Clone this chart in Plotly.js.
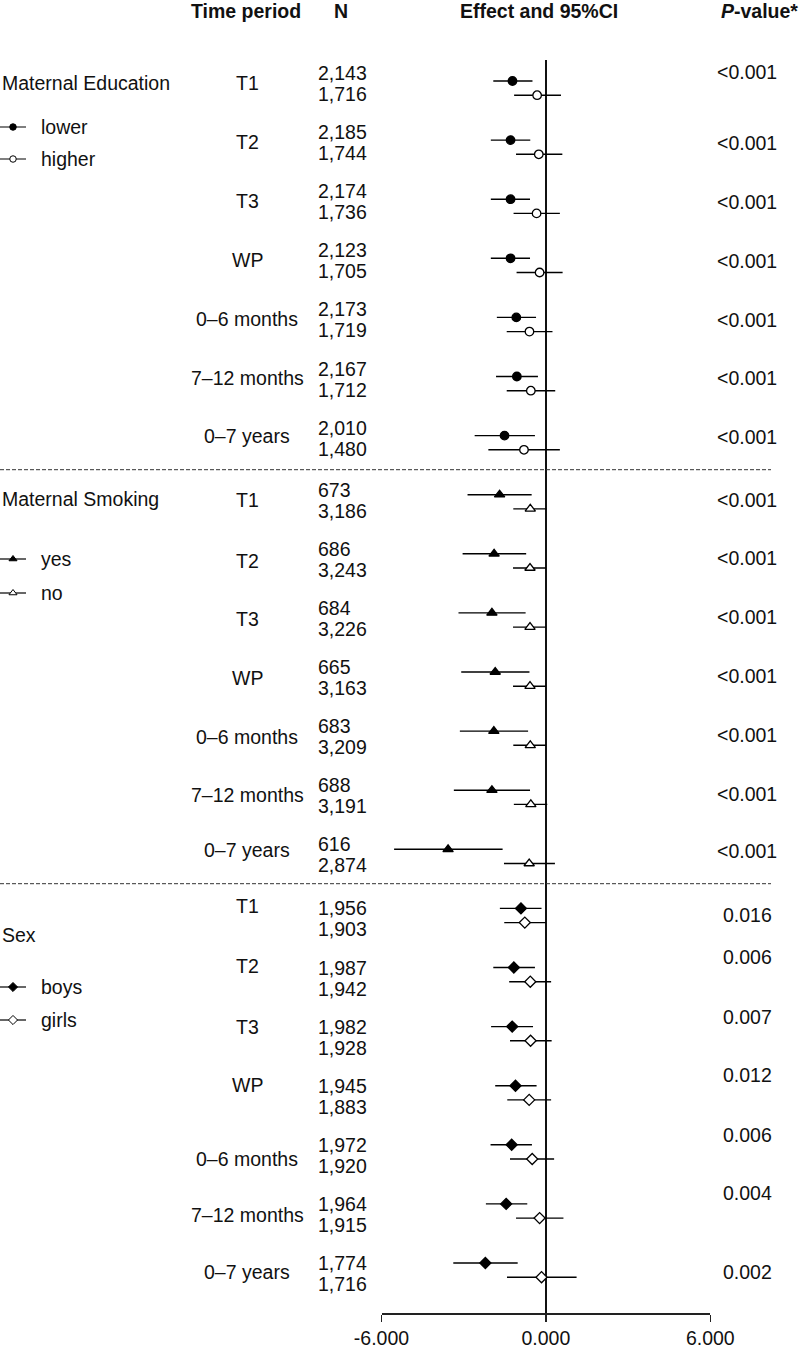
<!DOCTYPE html>
<html>
<head>
<meta charset="utf-8">
<script src="https://cdn.plot.ly/plotly-3.0.1.min.js"></script>
<style>
  html, body { margin: 0; padding: 0; background: #fff; }
  #chart { width: 800px; height: 1349px; }
</style>
</head>
<body>
<div id="chart"></div>
<script>
// ---- data ----
const periods = ['T1', 'T2', 'T3', 'WP', '0–6 months', '7–12 months', '0–7 years'];

// Maternal education
const eduLowerN   = ['2,143', '2,185', '2,174', '2,123', '2,173', '2,167', '2,010'];
const eduHigherN  = ['1,716', '1,744', '1,736', '1,705', '1,719', '1,712', '1,480'];
const eduLowerEst = [-1.22, -1.29, -1.29, -1.29, -1.08, -1.06, -1.51];
const eduLowerLo  = [-1.92, -2.01, -2.01, -2.01, -1.79, -1.82, -2.60];
const eduLowerHi  = [-0.49, -0.57, -0.58, -0.58, -0.36, -0.29, -0.40];
const eduHigherEst = [-0.32, -0.26, -0.34, -0.23, -0.60, -0.55, -0.80];
const eduHigherLo  = [-1.16, -1.09, -1.18, -1.07, -1.43, -1.43, -2.10];
const eduHigherHi  = [0.55, 0.60, 0.51, 0.61, 0.24, 0.34, 0.51];
const eduP = ['<0.001', '<0.001', '<0.001', '<0.001', '<0.001', '<0.001', '<0.001'];

// Maternal smoking
const smokYesN   = ['673', '686', '684', '665', '683', '688', '616'];
const smokNoN    = ['3,186', '3,243', '3,226', '3,163', '3,209', '3,191', '2,874'];
const smokYesEst = [-1.69, -1.89, -1.97, -1.85, -1.90, -1.97, -3.57];
const smokYesLo  = [-2.86, -3.04, -3.19, -3.09, -3.14, -3.36, -5.54];
const smokYesHi  = [-0.52, -0.72, -0.74, -0.60, -0.65, -0.58, -1.58];
const smokNoEst  = [-0.57, -0.58, -0.58, -0.58, -0.57, -0.55, -0.61];
const smokNoLo   = [-1.19, -1.20, -1.20, -1.20, -1.19, -1.17, -1.53];
const smokNoHi   = [0.02, 0.00, 0.00, 0.00, 0.00, 0.05, 0.33];
const smokP = ['<0.001', '<0.001', '<0.001', '<0.001', '<0.001', '<0.001', '<0.001'];

// Sex
const boysN    = ['1,956', '1,987', '1,982', '1,945', '1,972', '1,964', '1,774'];
const girlsN   = ['1,903', '1,942', '1,928', '1,883', '1,920', '1,915', '1,716'];
const boysEst  = [-0.91, -1.17, -1.23, -1.11, -1.25, -1.45, -2.21];
const boysLo   = [-1.68, -1.92, -2.00, -1.85, -2.02, -2.19, -3.38];
const boysHi   = [-0.16, -0.40, -0.47, -0.34, -0.51, -0.68, -1.03];
const girlsEst = [-0.77, -0.57, -0.56, -0.61, -0.50, -0.23, -0.16];
const girlsLo  = [-1.52, -1.34, -1.31, -1.41, -1.31, -1.09, -1.42];
const girlsHi  = [0.00, 0.19, 0.21, 0.19, 0.30, 0.64, 1.12];
const sexP = ['0.016', '0.006', '0.007', '0.012', '0.006', '0.004', '0.002'];

const xTicks = [-6, 0, 6];
const xTickText = ['-6.000', '0.000', '6.000'];

// ---- layout helpers (pixel geometry of the figure) ----
const W = 800, H = 1349;
const ROW0 = 81, ROWSTEP = 59.1, PAIR = 0.24;
const rowOf = px => (px - ROW0) / ROWSTEP;      // pixel -> row units on y
const py = px => (H - px) / H;                   // pixel -> paper y
const pxX = px => px / W;                        // pixel -> paper x
const FONT = 'Liberation Sans, Arial, Helvetica, sans-serif';
const FS = 19.5;

// text offsets in px relative to the first marker of each row
const sections = [
  { name: 'Maternal Education', start: 0, head: 83, leg: [127, 159], labels: ['lower', 'higher'],
    sym: 'circle', size: 8.5, nA: eduLowerN, nB: eduHigherN, p: eduP,
    a: [eduLowerEst, eduLowerLo, eduLowerHi], b: [eduHigherEst, eduHigherLo, eduHigherHi],
    nOff: -8, tOff: [2, 2, 2, 2, 2, 1, 0], pOff: [-9, 3, 3, 3, 3, 1, 1] },
  { name: 'Maternal Smoking', start: 7, head: 499, leg: [559, 593], labels: ['yes', 'no'],
    sym: 'triangle-up', size: 9, nA: smokYesN, nB: smokNoN, p: smokP,
    a: [smokYesEst, smokYesLo, smokYesHi], b: [smokNoEst, smokNoLo, smokNoHi],
    nOff: -5, tOff: [5, 7, 6, 6, 6, 5, 1], pOff: [5, 4, 4, 4, 4, 4, 2] },
  { name: 'Sex', start: 14, head: 935, leg: [987, 1020], labels: ['boys', 'girls'],
    sym: 'diamond', size: 8.5, nA: boysN, nB: girlsN, p: sexP,
    a: [boysEst, boysLo, boysHi], b: [girlsEst, girlsLo, girlsHi],
    nOff: 0, tOff: [-2, -2, 0, -1, 14, 11, 9], pOff: [7, -11, -10, -11, -10, -11, 9] },
];

const traces = [];
const annotations = [];
const shapes = [];

function ciTrace(est, lo, hi, ys, symbol, size, filled) {
  return {
    type: 'scatter', mode: 'markers', x: est, y: ys, xaxis: 'x', yaxis: 'y',
    cliponaxis: false, showlegend: false, hoverinfo: 'x',
    marker: { symbol: symbol, size: size,
      color: filled ? '#000' : '#fff', line: { color: '#000', width: 1.3 } },
    error_x: { type: 'data', symmetric: false,
      array: hi.map((h, i) => h - est[i]), arrayminus: est.map((e, i) => e - lo[i]),
      color: '#000', thickness: 1.4, width: 0 },
  };
}

function textAnn(text, x, y, align, yref) {
  return { text: text, x: x, y: y, xref: 'paper', yref: yref || 'y', showarrow: false,
    xanchor: align, yanchor: 'middle', font: { family: FONT, size: FS, color: '#111' } };
}

sections.forEach(s => {
  const yA = periods.map((_, i) => s.start + i);
  const yB = yA.map(v => v + PAIR);
  traces.push(ciTrace(s.a[0], s.a[1], s.a[2], yA, s.sym, s.size, true));
  traces.push(ciTrace(s.b[0], s.b[1], s.b[2], yB, s.sym, s.size, false));

  periods.forEach((p, i) => {
    const base = ROW0 + (s.start + i) * ROWSTEP;
    annotations.push(textAnn(p, pxX(247), rowOf(base + s.tOff[i]), 'center'));
    annotations.push(textAnn(s.nA[i], pxX(316), rowOf(base + s.nOff), 'left'));
    annotations.push(textAnn(s.nB[i], pxX(316), rowOf(base + s.nOff + 21), 'left'));
    annotations.push(textAnn(s.p[i], pxX(747), rowOf(base + s.pOff[i]), 'center'));
  });

  // group heading + key
  annotations.push(textAnn(s.name, 0, rowOf(s.head), 'left'));
  s.labels.forEach((lab, j) => {
    const yk = rowOf(s.leg[j]);
    annotations.push(textAnn(lab, pxX(39), yk, 'left'));
    traces.push({ type: 'scatter', mode: 'lines', x: [0, 26], y: [yk, yk],
      xaxis: 'x2', yaxis: 'y', showlegend: false, hoverinfo: 'skip', cliponaxis: false,
      line: { color: '#000', width: 1.2 } });
    traces.push({ type: 'scatter', mode: 'markers', x: [13], y: [yk],
      xaxis: 'x2', yaxis: 'y', showlegend: false, hoverinfo: 'skip', cliponaxis: false,
      marker: { symbol: s.sym, size: s.sym === 'circle' ? 6.5 : 7, color: j === 0 ? '#000' : '#fff',
        line: { color: '#000', width: 1 } } });
  });
});

// dashed separators between groups
[469.7, 883.7].forEach(px => {
  shapes.push({ type: 'line', xref: 'paper', yref: 'y', x0: 0, x1: pxX(771),
    y0: rowOf(px), y1: rowOf(px), line: { color: '#333', width: 1, dash: '4px,2px' } });
});

// column headers
[['<b>Time period</b>', 246], ['<b>N</b>', 341], ['<b>Effect and 95%CI</b>', 539], ['<b><i>P</i>-value*</b>', 759]]
  .forEach(([t, x]) => annotations.push(textAnn(t, pxX(x), py(11), 'center', 'paper')));

const layout = {
  width: W, height: H,
  margin: { l: 0, r: 0, t: 0, b: 0 },
  paper_bgcolor: '#fff', plot_bgcolor: '#fff',
  font: { family: FONT, size: FS, color: '#111' },
  showlegend: false,
  xaxis: {
    domain: [381.5 / W, 710.3 / W], range: [-6, 6], fixedrange: true,
    tickvals: xTicks, ticktext: xTickText, ticks: 'outside', ticklen: 7, tickwidth: 1.3, tickcolor: '#222',
    showline: true, linecolor: '#222', linewidth: 1.3, showgrid: false,
    zeroline: true, zerolinecolor: '#111', zerolinewidth: 1.5,
    tickfont: { family: FONT, size: FS, color: '#111' }, automargin: false,
  },
  xaxis2: { domain: [0, 30 / W], range: [0, 30], visible: false, fixedrange: true, anchor: 'y' },
  yaxis: {
    domain: [(H - 1313.3) / H, (H - 60) / H], range: [rowOf(1313.3), rowOf(60)],
    visible: false, fixedrange: true, zeroline: false, showgrid: false,
  },
  annotations: annotations,
  shapes: shapes,
};

Plotly.newPlot('chart', traces, layout, { displayModeBar: false, staticPlot: true });
</script>
</body>
</html>
